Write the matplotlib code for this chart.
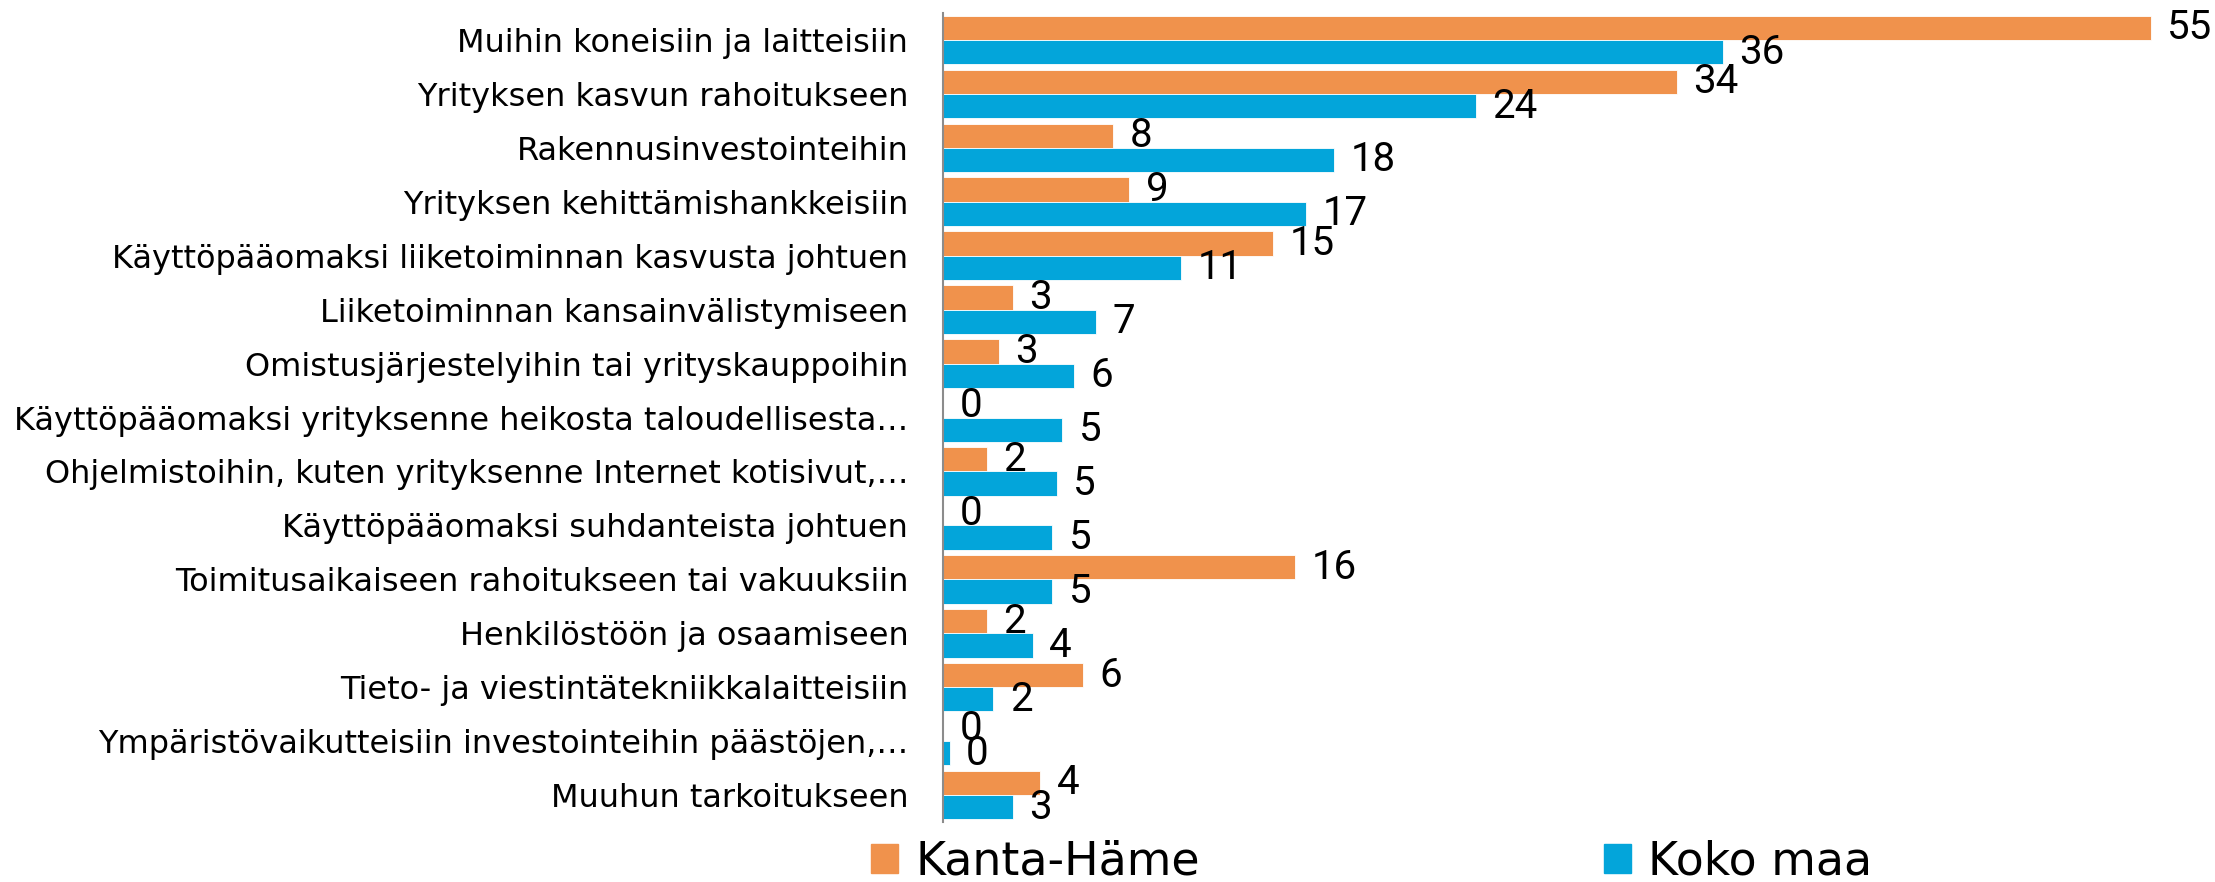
import matplotlib
matplotlib.use("Agg")
import matplotlib.pyplot as plt
import numpy as np
from matplotlib.patches import Patch

categories = [
    "Muihin koneisiin ja laitteisiin",
    "Yrityksen kasvun rahoitukseen",
    "Rakennusinvestointeihin",
    "Yrityksen kehittämishankkeisiin",
    "Käyttöpääomaksi liiketoiminnan kasvusta johtuen",
    "Liiketoiminnan kansainvälistymiseen",
    "Omistusjärjestelyihin tai yrityskauppoihin",
    "Käyttöpääomaksi yrityksenne heikosta taloudellisesta…",
    "Ohjelmistoihin, kuten yrityksenne Internet kotisivut,…",
    "Käyttöpääomaksi suhdanteista johtuen",
    "Toimitusaikaiseen rahoitukseen tai vakuuksiin",
    "Henkilöstöön ja osaamiseen",
    "Tieto- ja viestintätekniikkalaitteisiin",
    "Ympäristövaikutteisiin investointeihin päästöjen,…",
    "Muuhun tarkoitukseen",
]
kanta_hame = [55.3, 33.6, 7.8, 8.52, 15.1, 3.2, 2.55, 0, 2.0, 0, 16.1, 2.0, 6.4, 0, 4.45]
koko_maa = [35.7, 24.4, 17.9, 16.6, 10.9, 7.0, 6.0, 5.45, 5.2, 5.0, 5.0, 4.1, 2.3, 0.3, 3.2]
series_names = ["Kanta-Häme", "Koko maa"]

ORANGE = "#F0924C"
BLUE = "#03A5DA"

plt.rcParams['font.family'] = ["DejaVu Sans"]

W, H, DPI = 2215, 882, 100
fig = plt.figure(figsize=(W / DPI, H / DPI), dpi=DPI)
ax = fig.add_axes([943 / W, 1 - 822 / H, 1 - 943 / W, (822 - 13) / H])

y = np.arange(len(categories))
bar_h = 0.45
b1 = ax.barh(y - bar_h / 2, kanta_hame, height=bar_h, color=ORANGE, edgecolor="white", linewidth=0.6)
b2 = ax.barh(y + bar_h / 2, koko_maa, height=bar_h, color=BLUE, edgecolor="white", linewidth=0.6)

# value labels just right of each bar
for bars, vals in ((b1, kanta_hame), (b2, koko_maa)):
    for rect, v in zip(bars, vals):
        ax.annotate(f"{v:.0f}", (rect.get_width(), rect.get_y() + rect.get_height() / 2),
                    xytext=(12, 0), textcoords="offset points",
                    ha="left", va="center", fontsize=29, color="black",
                    family=["Roboto", "DejaVu Sans"], annotation_clip=False)

ax.set_xlim(0, 1272 / 21.84)
ax.set_ylim(len(categories) - 0.5, -0.5)
ax.set_yticks(y)
ax.set_yticklabels(categories, fontsize=23)
ax.tick_params(axis="y", length=0, pad=25)
ax.set_xticks([])

for side in ["top", "right", "bottom"]:
    ax.spines[side].set_visible(False)
ax.spines["left"].set_color("#8c8c8c")
ax.spines["left"].set_linewidth(1.5)

handles = [Patch(color=ORANGE), Patch(color=BLUE)]
fig.legend(handles, series_names, loc="center left", bbox_to_anchor=(871 / W, 1 - 862 / H),
           ncol=2, frameon=False, fontsize=33, borderpad=0, handlelength=0.59,
           handleheight=0.59, handletextpad=0.37, columnspacing=8.83, borderaxespad=0)

fig.savefig("out.png", dpi=DPI, facecolor="white")
